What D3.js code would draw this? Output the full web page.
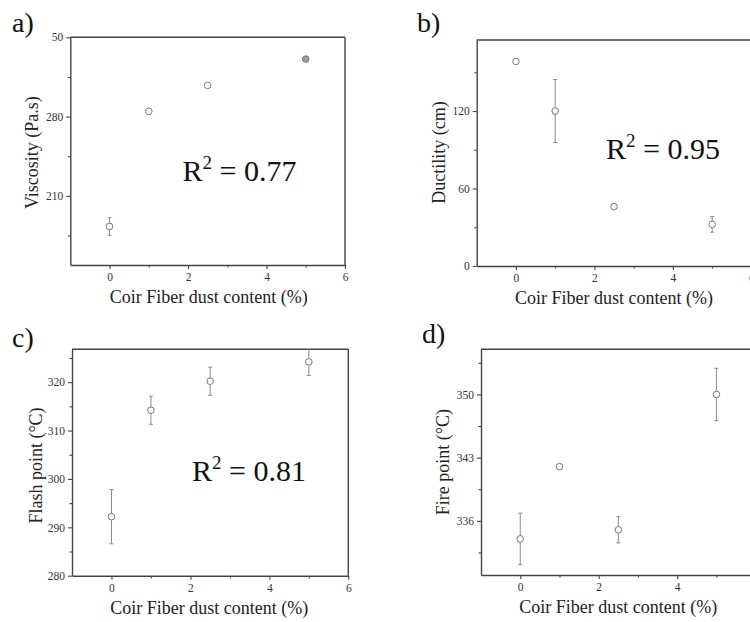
<!DOCTYPE html>
<html>
<head>
<meta charset="utf-8">
<script src="https://cdn.jsdelivr.net/npm/d3@7"></script>
<style>
body { margin: 0; background: #fff; }
</style>
</head>
<body>
<script>
// fiber dust content (%) shared by all four panels
const fiberContent = [0, 1, 2.5, 5];

const viscosity = [183.0, 284.7, 307.6, 330.8];
const viscosityErr = [7.8, 2.5, 0, 1.5];
const viscosityTicks = [210, 280, 350];
const viscosityTickLabels = ["210", "280", "50"];
const viscosityMinor = [175, 245, 315];

const ductility = [158.4, 120.0, 46.0, 32.2];
const ductilityErr = [0, 24.4, 0, 6.0];
const ductilityTicks = [0, 60, 120];
const ductilityTickLabels = ["0", "60", "120"];
const ductilityMinor = [30, 90, 150];

const flashPoint = [292.2, 314.2, 320.2, 324.2];
const flashPointErr = [5.6, 2.9, 2.9, 2.8];
const flashPointTicks = [280, 290, 300, 310, 320];
const flashPointTickLabels = ["280", "290", "300", "310", "320"];
const flashPointMinor = [285, 295, 305, 315, 325];

const firePoint = [334.0, 342.0, 335.0, 350.0];
const firePointErr = [2.85, 0, 1.45, 2.9];
const firePointTicks = [336, 343, 350];
const firePointTickLabels = ["336", "343", "350"];
const firePointMinor = [332.5, 339.5, 346.5, 353.5];

const xTicks = [0, 2, 4, 6];
const xMinor = [1, 3, 5];
const xLabel = "Coir Fiber dust content (%)";

const serif = "'Liberation Serif', 'Times New Roman', serif";

function styleAxis(axisG) {
    axisG.select(".domain").attr("stroke", "#444").attr("stroke-width", 1.4);
    axisG.selectAll(".tick line").attr("stroke", "#444").attr("stroke-width", 1.1);
    axisG.selectAll(".tick text")
        .style("font-family", serif)
        .style("font-size", "11.5px")
        .attr("fill", "#333");
}

function drawPanel(svg, p) {
    let x = d3.scaleLinear([-1, 6], [p.left, p.right]);
    let y = d3.scaleLinear(p.yDomain, [p.bottom, p.top]);
    let g = svg.append("g").attr("class", "panel-" + p.id);

    g.append("clipPath").attr("id", "clip-" + p.id)
        .append("rect")
        .attr("x", p.left).attr("y", p.top)
        .attr("width", p.right - p.left).attr("height", p.bottom - p.top);

    // frame top and right
    g.append("line")
        .attr("x1", p.left).attr("x2", p.right)
        .attr("y1", p.top).attr("y2", p.top)
        .attr("stroke", "#444").attr("stroke-width", 1.4);
    g.append("line")
        .attr("x1", p.right).attr("x2", p.right)
        .attr("y1", p.top).attr("y2", p.bottom)
        .attr("stroke", "#444").attr("stroke-width", 1.4);

    let xAxis = g.append("g")
        .attr("transform", `translate(0, ${p.bottom})`)
        .call(d3.axisBottom(x).tickValues(xTicks).tickSize(4).tickSizeOuter(0).tickPadding(4)
            .tickFormat(d3.format("d")));
    styleAxis(xAxis);
    let xAxisMinor = g.append("g")
        .attr("transform", `translate(0, ${p.bottom})`)
        .call(d3.axisBottom(x).tickValues(xMinor).tickSize(2.5).tickFormat(""));
    xAxisMinor.select(".domain").remove();
    styleAxis(xAxisMinor);

    let yAxis = g.append("g")
        .attr("transform", `translate(${p.left}, 0)`)
        .call(d3.axisLeft(y).tickValues(p.yTicks).tickSize(4).tickSizeOuter(0).tickPadding(3)
            .tickFormat((d, i) => p.yTickLabels[i]));
    styleAxis(yAxis);
    let yAxisMinor = g.append("g")
        .attr("transform", `translate(${p.left}, 0)`)
        .call(d3.axisLeft(y).tickValues(p.yMinor).tickSize(2.5).tickFormat(""));
    yAxisMinor.select(".domain").remove();
    styleAxis(yAxisMinor);

    let rows = fiberContent.map((c, i) => ({ c: c, v: p.values[i], e: p.errors[i] }));
    let marks = g.append("g").attr("clip-path", `url(#clip-${p.id})`);

    let bars = marks.selectAll("g.err").data(rows.filter(d => d.e > 0)).enter()
        .append("g").attr("class", "err")
        .attr("stroke", "#8a8a8a").attr("stroke-width", 1);
    bars.append("line")
        .attr("x1", d => x(d.c)).attr("x2", d => x(d.c))
        .attr("y1", d => y(d.v - d.e)).attr("y2", d => y(d.v + d.e));
    bars.append("line")
        .attr("x1", d => x(d.c) - 2).attr("x2", d => x(d.c) + 2)
        .attr("y1", d => y(d.v - d.e)).attr("y2", d => y(d.v - d.e));
    bars.append("line")
        .attr("x1", d => x(d.c) - 2).attr("x2", d => x(d.c) + 2)
        .attr("y1", d => y(d.v + d.e)).attr("y2", d => y(d.v + d.e));

    marks.selectAll("circle").data(rows).enter().append("circle")
        .attr("cx", d => x(d.c))
        .attr("cy", d => y(d.v))
        .attr("r", 3.3)
        .attr("fill", (d, i) => p.filled && p.filled[i] ? "#9a9a9a" : "#fff")
        .attr("stroke", "#777")
        .attr("stroke-width", 1);

    // panel letter
    svg.append("text")
        .attr("x", p.letterPos[0]).attr("y", p.letterPos[1])
        .style("font-family", serif).style("font-size", "28px")
        .attr("fill", "#111")
        .text(p.id + ")");

    // x label
    svg.append("text")
        .attr("x", (p.left + p.left + 274.7) / 2 + p.xLabelShift)
        .attr("y", p.bottom + 38)
        .attr("text-anchor", "middle")
        .style("font-family", serif).style("font-size", "18px")
        .attr("fill", "#222")
        .text(xLabel);

    // y label
    let yMid = (p.top + p.bottom) / 2 + p.yLabelShift;
    svg.append("text")
        .attr("transform", `translate(${p.yLabelX}, ${yMid}) rotate(-90)`)
        .attr("text-anchor", "middle")
        .style("font-family", serif).style("font-size", "18px")
        .attr("fill", "#222")
        .text(p.yLabel);

    // R squared annotation
    if (p.r2) {
        let t = svg.append("text")
            .attr("x", p.r2Pos[0]).attr("y", p.r2Pos[1])
            .style("font-family", serif).style("font-size", "30px")
            .attr("fill", "#111");
        t.append("tspan").text("R");
        t.append("tspan").attr("dy", -12).style("font-size", "19px").text("2");
        t.append("tspan").attr("dy", 12).text(" = " + p.r2);
    }
}

let svg = d3.select("body").append("svg").attr("width", 750).attr("height", 622);

let panels = [
    {
        id: "a", left: 70.3, right: 345, top: 37.3, bottom: 265, yDomain: [149, 350],
        values: viscosity, errors: viscosityErr, filled: [false, false, false, true],
        yTicks: viscosityTicks, yTickLabels: viscosityTickLabels, yMinor: viscosityMinor,
        yLabel: "Viscosity (Pa.s)", yLabelX: 38, yLabelShift: 1.5, xLabelShift: 1,
        letterPos: [12, 32], r2: "0.77", r2Pos: [182.5, 180.5]
    },
    {
        id: "b", left: 476.7, right: 751.4, top: 40, bottom: 266, yDomain: [0, 175],
        values: ductility, errors: ductilityErr,
        yTicks: ductilityTicks, yTickLabels: ductilityTickLabels, yMinor: ductilityMinor,
        yLabel: "Ductility (cm)", yLabelX: 445, yLabelShift: -0.5, xLabelShift: 0,
        letterPos: [417, 32], r2: "0.95", r2Pos: [606, 159]
    },
    {
        id: "c", left: 72, right: 348.3, top: 349.3, bottom: 575.7, yDomain: [280, 326.8],
        values: flashPoint, errors: flashPointErr,
        yTicks: flashPointTicks, yTickLabels: flashPointTickLabels, yMinor: flashPointMinor,
        yLabel: "Flash point (°C)", yLabelX: 42, yLabelShift: 3, xLabelShift: 0,
        letterPos: [12, 347], r2: "0.81", r2Pos: [192, 481]
    },
    {
        id: "d", left: 481, right: 755.7, top: 349.3, bottom: 575, yDomain: [330, 355],
        values: firePoint, errors: firePointErr,
        yTicks: firePointTicks, yTickLabels: firePointTickLabels, yMinor: firePointMinor,
        yLabel: "Fire point (°C)", yLabelX: 449, yLabelShift: 0, xLabelShift: 0,
        letterPos: [422, 343], r2: null
    }
];

panels.forEach(p => drawPanel(svg, p));
</script>
</body>
</html>
